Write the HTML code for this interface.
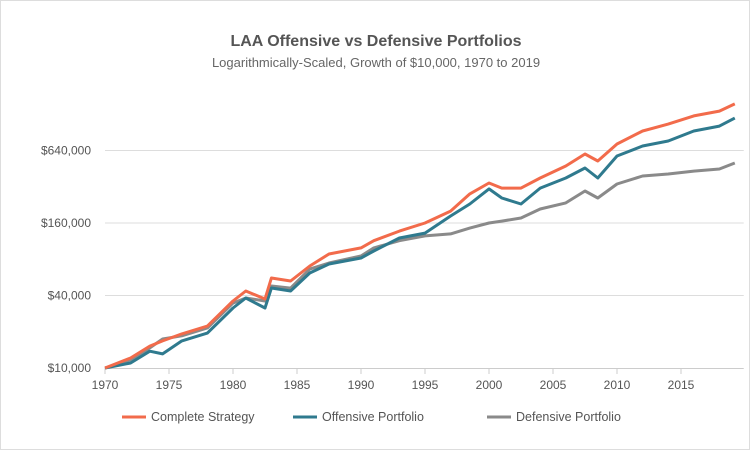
<!DOCTYPE html>
<html><head><meta charset="utf-8">
<style>
body{margin:0;background:#fff;}
#wrap{width:750px;height:450px;position:relative;box-sizing:border-box;border:1px solid #ddd;overflow:hidden;}
svg{position:absolute;left:0;top:0;font-family:"Liberation Sans",sans-serif;}
</style></head>
<body>
<div id="wrap">
<svg id="chart" width="750" height="450">
  <text x="375" y="45" text-anchor="middle" font-size="16" font-weight="bold" fill="#555">LAA Offensive vs Defensive Portfolios</text>
  <text x="375" y="66" text-anchor="middle" font-size="13" fill="#666">Logarithmically-Scaled, Growth of $10,000, 1970 to 2019</text>
  <g id="grid"></g>
  <g id="axes"></g>
  <g id="series"></g>
  <g id="legend"></g>
</svg>
</div>
<script>
const years = [1970,1972,1973.5,1974.5,1976,1978,1980,1981,1982.5,1983,1984.5,1986,1987.5,1990,1991,1993,1995,1997,1998.5,2000,2001,2002.5,2004,2006,2007.5,2008.5,2010,2012,2014,2016,2018,2019.2];
const completeStrategy = [10000,12100,15200,16800,19200,22300,36000,43600,37400,55900,52800,70300,88500,99400,114000,137000,160000,201000,279000,344000,312000,312000,378000,476000,598000,524000,725000,929000,1060000,1240000,1360000,1560000];
const offensivePortfolio = [10000,11000,13800,13100,16800,19500,31500,38100,31500,46200,43600,61500,73100,82000,93700,120000,132000,183000,230000,307000,258000,230000,312000,378000,458000,378000,576000,697000,767000,929000,1020000,1190000];
const defensivePortfolio = [10000,11700,14700,17400,18500,21500,34600,38100,36000,48000,46100,66300,74500,85200,99400,114000,125000,130000,145000,160000,166000,176000,209000,235000,295000,258000,337000,393000,408000,432000,449000,504000];
const yTicks = [10000,40000,160000,640000];
const yTickLabels = ["$10,000","$40,000","$160,000","$640,000"];
const xTicks = [1970,1975,1980,1985,1990,1995,2000,2005,2010,2015];
const seriesNames = ["Complete Strategy","Offensive Portfolio","Defensive Portfolio"];

const NS="http://www.w3.org/2000/svg";
const X0=104,PXY=12.8,Y0=367,PXD=36.25;
function xs(yr){return X0+(yr-1970)*PXY;}
function ys(v){return Y0-Math.log2(v/10000)*PXD;}
function mk(tag,attrs,parent){const e=document.createElementNS(NS,tag);for(const k in attrs)e.setAttribute(k,attrs[k]);parent.appendChild(e);return e;}
const grid=document.getElementById('grid'),axes=document.getElementById('axes'),ser=document.getElementById('series'),leg=document.getElementById('legend');
const xEnd=xs(2019.9);
yTicks.forEach((t,i)=>{
  if(i>0){const l=mk('line',{x1:X0,x2:xEnd,y1:ys(t),y2:ys(t),stroke:'#ddd','stroke-width':1},grid);
  
  }
  const tx=mk('text',{x:90,y:ys(t)+4,'text-anchor':'end','font-size':12,fill:'#555'},axes);
  tx.textContent=yTickLabels[i];
  
  
});
const ax=mk('line',{x1:X0,x2:xEnd,y1:Y0+0.5,y2:Y0+0.5,stroke:'#ccc','stroke-width':1},axes);


xTicks.forEach(t=>{
  const tk=mk('line',{x1:xs(t),x2:xs(t),y1:Y0,y2:Y0+6,stroke:'#ccc'},axes);
  
  
  const tx=mk('text',{x:xs(t),y:Y0+21,'text-anchor':'middle','font-size':12,fill:'#555'},axes);
  tx.textContent=t;
  
  
});
const cols=['#8a8a8a','#2f7a8e','#f26b4b'];
const data=[defensivePortfolio,offensivePortfolio,completeStrategy];
const names=['defensive-line','offensive-line','complete-line'];
data.forEach((arr,i)=>{
  const d=arr.map((v,j)=>(j?'L':'M')+xs(years[j]).toFixed(1)+','+ys(v).toFixed(1)).join('');
  const p=mk('path',{d:d,fill:'none',stroke:cols[i],'stroke-width':3,'stroke-linejoin':'round'},ser);
  
  
});
const legCols=['#f26b4b','#2f7a8e','#8a8a8a'];
const legX=[121,292,486];
seriesNames.forEach((n,i)=>{
  const g=mk('g',{},leg);
  
  
  mk('line',{x1:legX[i],x2:legX[i]+24,y1:416,y2:416,stroke:legCols[i],'stroke-width':3},g);
  const t=mk('text',{x:legX[i]+29,y:420,'font-size':12.5,fill:'#555'},g);
  t.textContent=n;
});
</script>
</body></html>
